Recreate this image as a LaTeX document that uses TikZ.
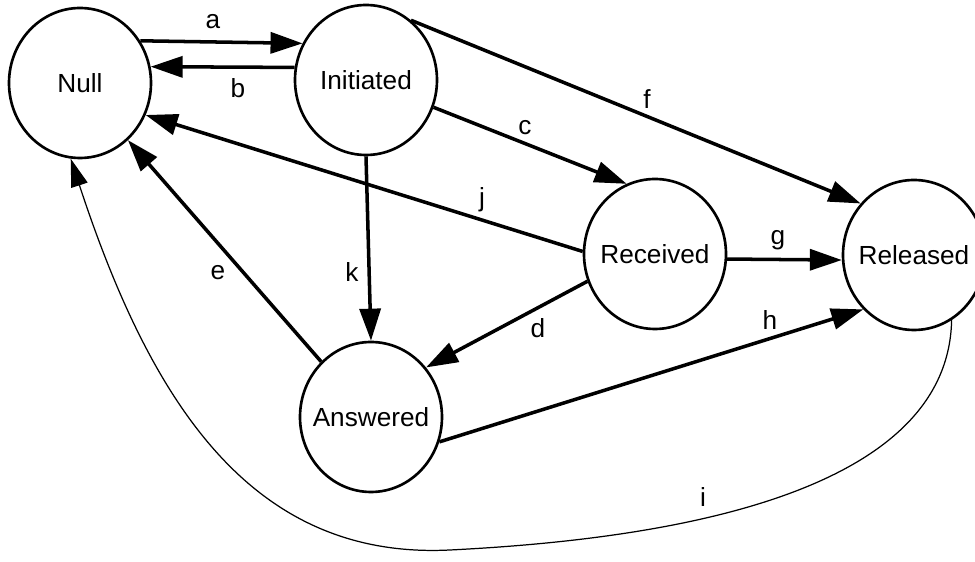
\documentclass[tikz,border=0pt]{standalone}
\usepackage{fontspec}
\setmainfont{Liberation Sans}
\usetikzlibrary{shapes.geometric, arrows.meta}

\tikzstyle{state}     = [ellipse, draw=black, line width=1.5pt, minimum width=2.84cm,
                         minimum height=3.0cm, inner sep=0pt]
\tikzstyle{statename} = [inner sep=0pt, font=\fontsize{14.9}{18}\selectfont]
\tikzstyle{arrow}     = [-{Triangle[length=0.64cm, width=0.42cm]}, line width=2pt]
\tikzstyle{thinarrow} = [-{Triangle[length=0.56cm, width=0.34cm]}, line width=0.7pt]
\tikzstyle{lbl}       = [inner sep=0pt, font=\fontsize{14.9}{18}\selectfont]

\begin{document}
\begin{tikzpicture}

  \useasboundingbox (0,0) rectangle (19.5,-11.24);

  %% States
  \node[state, label={[statename]center:Null}]      (null) at (1.6,-1.66)  {};
  \node[state, label={[statename]center:Initiated}] (ini)  at (7.32,-1.6)  {};
  \node[state, label={[statename]center:Received}]  (rec)  at (13.1,-5.08) {};
  \node[state, label={[statename]center:Released}]  (rel)  at (18.28,-5.1) {};
  \node[state, label={[statename]center:Answered}]  (ans)  at (7.42,-8.34) {};

  %% Transitions
  \draw[arrow] (null.35)  -- (ini.150);
  \draw[arrow] (ini.170)  -- (null.13);
  \draw[arrow] (ini.-22)  -- (rec.112);
  \draw[arrow] (rec.-158) -- (ans.42);
  \draw[arrow] (ans.132)  -- (null.-50);
  \draw[arrow] (ini.53)   -- (rel.136);
  \draw[arrow] (rec.-4)   -- (rel.184);
  \draw[arrow] (ans.-20)  -- (rel.-133);
  \draw[arrow] (rec.178)  -- (null.-26);
  \draw[arrow] (ini.south) -- (ans.north);

  %% Release back to Null
  \coordinate (ilow) at (9,-11);
  \draw[thinarrow] (rel.-60) .. controls (18.96,-10.0) and (13.0,-10.8) .. (ilow)
                   .. controls (5.0,-11.2) and (3.0,-8.0) .. (null.-97);

  %% Labels
  \node[lbl] (la) at (4.26,-0.44)  {a};
  \node[lbl] (lb) at (4.76,-1.76)  {b};
  \node[lbl] (lc) at (10.5,-2.56)  {c};
  \node[lbl] (ld) at (10.76,-6.56) {d};
  \node[lbl] (le) at (4.36,-5.46)  {e};
  \node[lbl] (lf) at (12.94,-1.98) {f};
  \node[lbl] (lg) at (15.56,-4.8)  {g};
  \node[lbl] (lh) at (15.4,-6.4)   {h};
  \node[lbl] (li) at (14.06,-9.94) {i};
  \node[lbl] (lj) at (9.64,-4.0)   {j};
  \node[lbl] (lk) at (7.04,-5.44)  {k};

\end{tikzpicture}
\end{document}
